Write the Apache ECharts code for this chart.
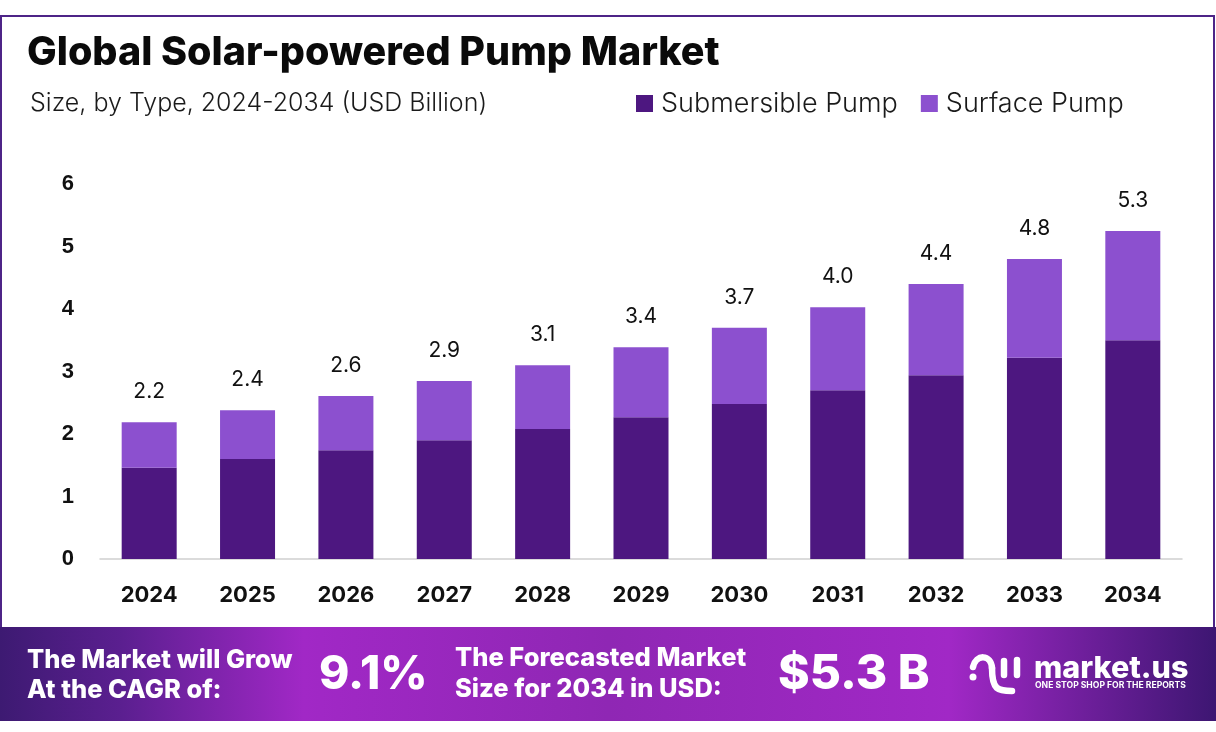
<!doctype html>
<html lang="en">
 <head>
  <meta charset="UTF-8">
  <style type="text/css">
  html,body{margin:0;padding:0;background:#fff;}
  #main{width:1216px;height:732px;}
  </style>
  <script src="https://cdn.jsdelivr.net/npm/echarts@6/dist/echarts.min.js"></script>
  <title>Global Solar-powered Pump Market</title>
 </head>
 <body>
    <div id="main"></div>
    <script type="text/javascript">
    var years = ["2024","2025","2026","2027","2028","2029","2030","2031","2032","2033","2034"];
    var submersible = [1.46,1.60,1.74,1.90,2.08,2.27,2.48,2.70,2.94,3.22,3.50];
    var surface = [0.73,0.78,0.87,0.95,1.02,1.12,1.22,1.33,1.46,1.58,1.75];
    var totalLabels = ["2.2","2.4","2.6","2.9","3.1","3.4","3.7","4.0","4.4","4.8","5.3"];

    var uiFont = 'Inter';
    var white = '#fff';

    function bannerText(text, x, y, size, shadow){
        return {
            type: 'text', x: x, y: y, z: 10,
            style: {
                text: text, fill: white, font: '800 ' + size + 'px ' + uiFont,
                textVerticalAlign: 'middle',
                shadowColor: shadow ? 'rgba(40,0,70,0.6)' : 'transparent',
                shadowBlur: shadow ? 5 : 0, shadowOffsetX: shadow ? 2 : 0, shadowOffsetY: shadow ? 3 : 0
            }
        };
    }

    var myChart = echarts.init(document.getElementById('main'), null, {renderer: 'canvas'});
    var option = {
        animation: false,
        backgroundColor: '#fff',
        color: ['#4d1780', '#8c50cf'],
        title: [
            {text: 'Global Solar-powered Pump Market', left: 27, top: 33, padding: 0,
             textStyle: {fontFamily: uiFont, fontWeight: 800, fontSize: 39.5, color: '#0a0a0a'}},
            {text: 'Size, by Type, 2024-2034 (USD Billion)', left: 30, top: 91, padding: 0,
             textStyle: {fontFamily: uiFont, fontWeight: 300, fontSize: 25, color: '#1a1a1a'}}
        ],
        legend: {
            left: 636, top: 90, padding: 0, icon: 'rect', itemWidth: 17, itemHeight: 17, itemGap: 23,
            selectedMode: false,
            textStyle: {fontFamily: uiFont, fontWeight: 300, fontSize: 27, color: '#1a1a1a', padding: [0, 0, 0, 3]},
            data: ['Submersible Pump', 'Surface Pump']
        },
        grid: {left: 100, right: 34, top: 184, bottom: 173},
        xAxis: {
            type: 'category', data: years,
            axisTick: {show: false},
            axisLine: {lineStyle: {color: '#d0d0d0', width: 1.5}},
            axisLabel: {fontFamily: uiFont, fontWeight: 700, fontSize: 22, color: '#111', margin: 25}
        },
        yAxis: {
            type: 'value', min: 0, max: 6, interval: 1,
            splitLine: {show: false},
            axisLine: {show: false}, axisTick: {show: false},
            axisLabel: {fontFamily: 'Liberation Sans', fontWeight: 700, fontSize: 22, color: '#111', margin: 26}
        },
        series: [
            {name: 'Submersible Pump', type: 'bar', stack: 'total', barWidth: 55, data: submersible},
            {name: 'Surface Pump', type: 'bar', stack: 'total', barWidth: 55, data: surface,
             label: {
                show: true, position: 'top', distance: 20,
                fontFamily: uiFont, fontWeight: 400, fontSize: 21, color: '#111',
                formatter: function(p){ return totalLabels[p.dataIndex]; }
             }}
        ],
        graphic: [
            {type: 'rect', z: -1, shape: {x: 1, y: 16, width: 1213, height: 620},
             style: {fill: 'transparent', stroke: '#4d2487', lineWidth: 2}},
            {type: 'rect', z: 5, shape: {x: 0, y: 627, width: 1216, height: 94},
             style: {fill: new echarts.graphic.LinearGradient(0, 0, 1, 0, [
                {offset: 0, color: '#3d1a72'},
                {offset: 0.1, color: '#5b1f90'},
                {offset: 0.25, color: '#a128c6'},
                {offset: 0.5, color: '#8f27b4'},
                {offset: 0.78, color: '#a128c6'},
                {offset: 1, color: '#3d1672'}
             ])}},
            bannerText('The Market will Grow', 27, 660, 25.5),
            bannerText('At the CAGR of:', 27, 690, 25.5),
            bannerText('9.1%', 319, 675, 46, true),
            bannerText('The Forecasted Market', 455, 658, 25.5),
            bannerText('Size for 2034 in USD:', 455, 689, 25.5),
            bannerText('$5.3 B', 778, 675, 48, true),
            // logo
            {type: 'bezierCurve', z: 10, shape: {x1: 973, y1: 667, cpx1: 976, cpy1: 654, cpx2: 991, cpy2: 654, x2: 992, y2: 668},
             style: {fill: 'none', stroke: white, lineWidth: 6.5, lineCap: 'round'}},
            {type: 'bezierCurve', z: 10, shape: {x1: 992, y1: 668, cpx1: 992, cpy1: 690, cpx2: 998, cpy2: 691, x2: 1012, y2: 691},
             style: {fill: 'none', stroke: white, lineWidth: 6.5, lineCap: 'round'}},
            {type: 'circle', z: 10, shape: {cx: 973, cy: 677, r: 3.5}, style: {fill: white}},
            {type: 'line', z: 10, shape: {x1: 1004, y1: 661, x2: 1004, y2: 675},
             style: {stroke: white, lineWidth: 6.5, lineCap: 'round'}},
            {type: 'line', z: 10, shape: {x1: 1017, y1: 660, x2: 1017, y2: 675},
             style: {stroke: white, lineWidth: 6.5, lineCap: 'round'}},
            bannerText('market.us', 1034, 669, 30.5),
            {type: 'text', x: 1035, y: 685, z: 10,
             style: {text: 'ONE STOP SHOP FOR THE REPORTS', fill: white, font: '700 8.6px ' + uiFont,
                     textVerticalAlign: 'middle'}}
        ]
    };
    myChart.setOption(option);
    </script>
 </body>
</html>
